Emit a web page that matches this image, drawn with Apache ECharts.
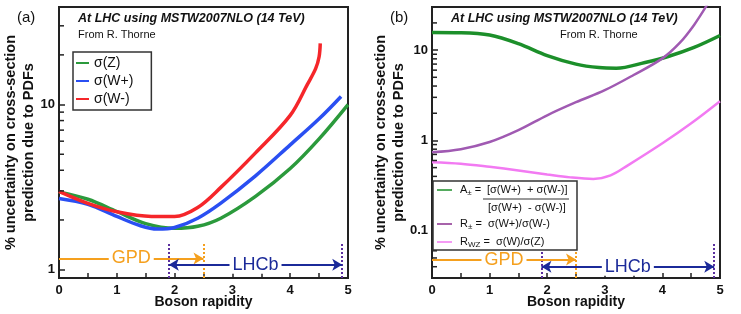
<!DOCTYPE html>
<html><head><meta charset="utf-8">
<script src="https://cdn.jsdelivr.net/npm/echarts@6/dist/echarts.min.js"></script>
<style>html,body{margin:0;padding:0;background:#fff}#c{width:741px;height:314px}</style>
</head><body><div id="c"></div>
<script>
// ---- data ----
const sigmaZ  = [[0,2.96],[0.5,2.67],[1.0,2.25],[1.5,1.9],[2.0,1.78],[2.4,1.83],[2.8,2.05],[3.4,2.78],[4.0,4.1],[4.5,6.2],[5.0,10.0]];
const sigmaWp = [[0,2.7],[0.5,2.49],[1.0,2.1],[1.4,1.85],[1.7,1.76],[2.0,1.8],[2.4,2.05],[2.8,2.53],[3.4,3.7],[4.0,5.7],[4.5,8.2],[4.88,11.2]];
const sigmaWm = [[0,2.98],[0.5,2.52],[1.0,2.24],[1.6,2.1],[2.0,2.1],[2.4,2.38],[2.8,3.15],[3.4,5.1],[4.0,8.6],[4.3,13.3],[4.44,16.5],[4.5,19.5],[4.52,23.5]];
const asymPM  = [[0,15.7],[0.5,15.6],[1.0,14.7],[1.5,11.8],[2.0,8.7],[2.5,7.0],[2.9,6.4],[3.2,6.3],[3.7,7.3],[4.1,8.5],[4.55,10.7],[5.0,14.5]];
const ratioPM = [[0,0.74],[0.5,0.8],[1.0,0.96],[1.5,1.3],[2.0,1.9],[2.5,2.65],[3.0,3.6],[3.5,5.3],[4.0,8.1],[4.3,12],[4.55,19],[4.78,32]];
const ratioWZ = [[0,0.575],[0.5,0.553],[1.0,0.51],[1.5,0.465],[2.0,0.42],[2.4,0.39],[2.8,0.375],[3.1,0.41],[3.4,0.53],[4.0,0.93],[4.5,1.55],[5.0,2.72]];
const gpdRange  = [0, 2.5];
const lhcbRange = [1.9, 4.9];
const leftTickLabels  = [1, 10];
const rightTickLabels = [0.1, 1, 10];
const leftMinorTicks  = [2,3,4,5,6,7,8,9,20,30];
const rightMinorTicks = [0.04,0.05,0.06,0.07,0.08,0.09,0.2,0.3,0.4,0.5,0.6,0.7,0.8,0.9,2,3,4,5,6,7,8,9,20];

const FF = '"Liberation Sans", Arial, Helvetica, sans-serif';
const INK = '#222';
const ORANGE = '#f5a01e', NAVY = '#1b2a99', DOT = '#5b2f9e';

function logFmt(labels){
  return v => { for (const t of labels) if (Math.abs(v - t) / t < 1e-6) return String(t); return ''; };
}
function xAxisCfg(gi){
  return {
    gridIndex: gi, type:'value', min:0, max:5, interval:1,
    name:'Boson rapidity', nameLocation:'middle', nameGap:17, nameMoveOverlap:false,
    nameTextStyle:{fontFamily:FF, fontWeight:'bold', fontSize:14, color:'#111'},
    axisLine:{show:true, lineStyle:{color:INK, width:2}},
    axisTick:{show:true, inside:true, length:5, lineStyle:{color:INK, width:1.5}},
    minorTick:{show:true, splitNumber:2, length:5, lineStyle:{color:INK, width:1.5}},
    splitLine:{show:false}, minorSplitLine:{show:false},
    axisLabel:{fontFamily:FF, fontWeight:'bold', fontSize:13, color:'#111', margin:6}
  };
}
function yAxisCfg(gi, min, max, labels, gap){
  return {
    gridIndex: gi, type:'log', logBase:10, min:min, max:max,
    name:'% uncertainty on cross-section\nprediction due to PDFs', nameLocation:'middle', nameGap:gap, nameMoveOverlap:false,
    nameTextStyle:{fontFamily:FF, fontWeight:'bold', fontSize:14.5, lineHeight:18, color:'#111'},
    axisLine:{show:true, lineStyle:{color:INK, width:2}},
    axisTick:{show:true, inside:true, length:6, lineStyle:{color:INK, width:1.5}},
    splitLine:{show:false},
    axisLabel:{fontFamily:FF, fontWeight:'bold', fontSize:13, color:'#111', margin:4, formatter: logFmt(labels)}
  };
}
function curve(name, data, gi, color, width){
  return {name, type:'line', xAxisIndex:gi, yAxisIndex:gi, data, smooth:0.35, showSymbol:false,
    symbol:'none', lineStyle:{color, width}, itemStyle:{color}, z:3, animation:false};
}
function minorTicks(vals, gi){
  return {type:'custom', xAxisIndex:gi, yAxisIndex:gi, silent:true, z:6, animation:false,
    data: vals.map(v => [0, v]), encode:{x:0, y:1},
    renderItem:(params, api) => {
      const p = api.coord([api.value(0), api.value(1)]);
      return {type:'line', shape:{x1:p[0], y1:p[1], x2:p[0]+5, y2:p[1]}, style:{stroke:INK, lineWidth:1.5}};
    }};
}
function annotations(gi, ymin, yGpd, yLhcb, yTop){
  const lbl = (txt, col) => ({show:true, formatter:txt, position:'insideMiddle', color:col,
    fontFamily:FF, fontSize:18, backgroundColor:'#fff', padding:[0,3]});
  return {type:'line', xAxisIndex:gi, yAxisIndex:gi, data:[], silent:true, z:4, animation:false,
    markLine:{silent:true, animation:false, symbolSize:[9,10],
      data:[
        [{coord:[lhcbRange[0], ymin], symbol:'none', lineStyle:{color:DOT, width:2, type:'dotted'}, label:{show:false}},
         {coord:[lhcbRange[0], yTop], symbol:'none'}],
        [{coord:[lhcbRange[1], ymin], symbol:'none', lineStyle:{color:DOT, width:2, type:'dotted'}, label:{show:false}},
         {coord:[lhcbRange[1], yTop], symbol:'none'}],
        [{coord:[gpdRange[1], ymin], symbol:'none', lineStyle:{color:ORANGE, width:2, type:'dotted'}, label:{show:false}},
         {coord:[gpdRange[1], yTop], symbol:'none'}],
        [{coord:[gpdRange[0], yGpd], symbol:'none', lineStyle:{color:ORANGE, width:2, type:'solid'}, label:lbl('GPD', ORANGE)},
         {coord:[gpdRange[1], yGpd], symbol:'arrow'}],
        [{coord:[lhcbRange[0], yLhcb], symbol:'arrow', lineStyle:{color:NAVY, width:2, type:'solid'}, label:lbl('LHCb', NAVY)},
         {coord:[lhcbRange[1], yLhcb], symbol:'arrow'}]
      ]}};
}

const chart = echarts.init(document.getElementById('c'), null, {renderer:'canvas'});
const GREEN_L = '#2b9a3c', BLUE = '#2a4ff2', RED = '#f5262a';
const GREEN_R = '#1c8f2a', PURPLE = '#a05ab2', PINK = '#f27af2';

const txt = (x, y, text, font, extra) => ({type:'text', x, y, z:100,
  style:Object.assign({text, font, fill:'#111', verticalAlign:'middle', textVerticalAlign:'middle'}, extra||{})});
const seg = (x1, x2, y, color, w) => ({type:'line', z:100, shape:{x1, y1:y, x2, y2:y}, style:{stroke:color, lineWidth:w||2}});
const rich = {n:{fontFamily:FF, fontSize:11, fill:'#111'}, s:{fontFamily:FF, fontSize:8, fill:'#111', verticalAlign:'bottom', padding:[5,0,0,0]}};

chart.setOption({
  backgroundColor:'#fff',
  animation:false,
  grid:[
    {left:59, top:7, width:289, height:271, show:true, borderColor:INK, borderWidth:2, backgroundColor:'transparent', containLabel:false, outerBoundsMode:'none'},
    {left:432, top:7, width:288, height:271, show:true, borderColor:INK, borderWidth:2, backgroundColor:'transparent', containLabel:false, outerBoundsMode:'none'}
  ],
  xAxis:[xAxisCfg(0), xAxisCfg(1)],
  yAxis:[yAxisCfg(0, 0.89, 39, leftTickLabels, 21.5), yAxisCfg(1, 0.03, 30, rightTickLabels, 24)],
  legend:[{
    data:['σ(Z)','σ(W+)','σ(W-)'], left:73, top:52, orient:'vertical', icon:'rect',
    itemWidth:13, itemHeight:2, itemGap:2, padding:[3,18,3,3],
    borderColor:'#333', borderWidth:1.5, backgroundColor:'#fff', selectedMode:false,
    textStyle:{fontFamily:FF, fontSize:14, lineHeight:16, color:'#111'}
  }],
  series:[
    curve('σ(Z)', sigmaZ, 0, GREEN_L, 3.5),
    curve('σ(W+)', sigmaWp, 0, BLUE, 3.5),
    curve('σ(W-)', sigmaWm, 0, RED, 3.5),
    curve('A±', asymPM, 1, GREEN_R, 3.5),
    curve('R±', ratioPM, 1, PURPLE, 2.5),
    curve('RWZ', ratioWZ, 1, PINK, 2.5),
    minorTicks(leftMinorTicks, 0),
    minorTicks(rightMinorTicks, 1),
    annotations(0, 0.89, 1.17, 1.07, 1.46),
    annotations(1, 0.03, 0.048, 0.040, 0.074)
  ],
  graphic:[
    txt(17, 18, '(a)', '15px ' + FF),
    txt(390, 18, '(b)', '15px ' + FF),
    txt(78, 19, 'At LHC using MSTW2007NLO (14 TeV)', 'italic bold 12.5px ' + FF),
    txt(78, 35, 'From R. Thorne', '11px ' + FF),
    txt(451, 19, 'At LHC using MSTW2007NLO (14 TeV)', 'italic bold 12.5px ' + FF),
    txt(560, 35, 'From R. Thorne', '11px ' + FF),
    {type:'rect', z:99, shape:{x:433, y:181, width:144, height:69}, style:{fill:'#fff', stroke:'#333', lineWidth:1.5}},
    seg(437, 452, 190, GREEN_R, 1.5),
    txt(460, 190, '{n|A}{s|±}{n| =}', '11px ' + FF, {rich}),
    txt(487, 190, '[σ(W+)  + σ(W-)]', '11px ' + FF),
    seg(483, 569, 199, '#333', 1),
    txt(488, 208, '[σ(W+)  - σ(W-)]', '11px ' + FF),
    seg(437, 452, 224, '#8a2f8e', 1.5),
    txt(460, 224, '{n|R}{s|±}{n| =  σ(W+)/σ(W-)}', '11px ' + FF, {rich}),
    seg(437, 452, 242, PINK, 1.5),
    txt(460, 242, '{n|R}{s|WZ}{n| =  σ(W)/σ(Z)}', '11px ' + FF, {rich})
  ]
});
</script></body></html>
